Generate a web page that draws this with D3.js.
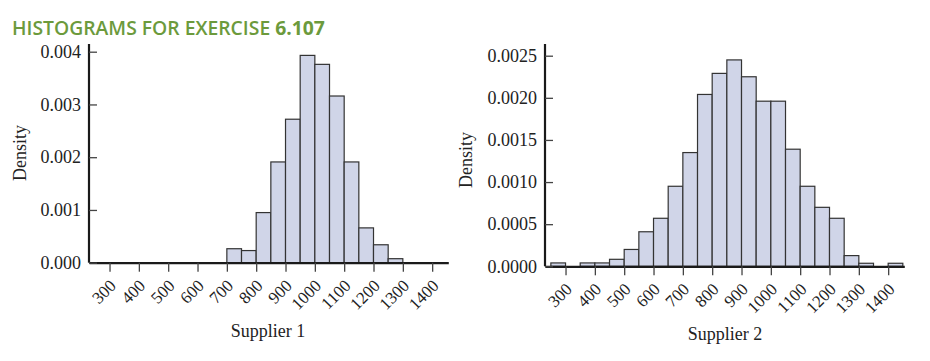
<!DOCTYPE html>
<html><head><meta charset="utf-8">
<script src="https://cdn.jsdelivr.net/npm/d3@7"></script>
<style>
body{margin:0;background:#fff;}
svg text{font-family:"Liberation Serif","Times New Roman",serif;}
</style></head>
<body><svg id="c" width="930" height="361"></svg>
<script>
const binStarts1 = [700,750,800,850,900,950,1000,1050,1100,1150,1200,1250];
const density1 = [0.000265,0.00023,0.00095,0.00191,0.00272,0.00393,0.00376,0.00316,0.00191,0.00066,0.00034,0.000076];
const binStarts2 = [250,300,350,400,450,500,550,600,650,700,750,800,850,900,950,1000,1050,1100,1150,1200,1250,1300,1350,1400];
const density2 = [0.00004,0,0.00004,0.00004,0.000083,0.0002,0.00041,0.00057,0.00095,0.00135,0.00204,0.00229,0.00245,0.00225,0.00196,0.00196,0.00139,0.00095,0.0007,0.00057,0.000127,0.000036,0,0.000036];
const xTicks = [300,400,500,600,700,800,900,1000,1100,1200,1300,1400];
const yTicks1 = [0,0.001,0.002,0.003,0.004];
const yTicks2 = [0,0.0005,0.001,0.0015,0.002,0.0025];
const binWidth = 50;

const svg = d3.select("#c");

// title
const title = svg.append("text").attr("x",12).attr("y",35)
  .style("font-family","'Open Sans','Noto Sans',sans-serif").style("font-size","19px")
  .attr("font-weight","600").attr("fill","#6c9a3c");
title.append("tspan").text("HISTOGRAMS FOR EXERCISE ");
title.append("tspan").attr("font-weight","bold").text("6.107");
// fit title width to reference span
const tw = title.node().getComputedTextLength();
title.style("font-size", (19*313/tw).toFixed(2)+"px");

function panel(cfg){
  const x = d3.scaleLinear().domain([230,1455]).range([cfg.x0, cfg.x1]);
  const y = d3.scaleLinear().domain([0, cfg.ymax]).range([cfg.yb, cfg.yt]);
  const g = svg.append("g");
  g.selectAll("rect.bar").data(cfg.starts.map((s,i)=>({s, d:cfg.dens[i]})).filter(d=>d.d>0))
    .enter().append("rect").attr("class","bar")
    .attr("x",d=>x(d.s)).attr("width",d=>x(d.s+binWidth)-x(d.s))
    .attr("y",d=>y(d.d)).attr("height",d=>y(0)-y(d.d))
    .attr("fill","#d0d5e8").attr("stroke","#333").attr("stroke-width",1.2);
  const xa = g.append("g").attr("transform",`translate(0,${cfg.yb})`)
    .call(d3.axisBottom(x).tickValues(cfg.xt).tickSize(9).tickSizeOuter(0).tickFormat(d3.format("d")));
  xa.select(".domain").attr("stroke","#1a1a1a").attr("stroke-width",2.2);
  xa.selectAll(".tick line").attr("stroke","#444").attr("stroke-width",1.3);
  xa.selectAll(".tick text").attr("fill","#222").style("font-size","17px")
    .attr("text-anchor","end").attr("dy",null).attr("y",null)
    .attr("transform","translate(7,24) rotate(-45)");
  const ya = g.append("g").attr("transform",`translate(${cfg.x0},0)`)
    .call(d3.axisLeft(y).tickValues(cfg.yt_).tickSize(-8).tickPadding(8).tickSizeOuter(0).tickFormat(cfg.fmt));
  ya.select(".domain").attr("d",`M0,${cfg.yb}V${cfg.yTop}`).attr("stroke","#1a1a1a").attr("stroke-width",2.2);
  ya.selectAll(".tick line").attr("stroke","#444").attr("stroke-width",1.3);
  ya.selectAll(".tick text").attr("fill","#222").style("font-size","18px");
  g.append("text").attr("transform",`translate(${cfg.ylx},${cfg.yly}) rotate(-90)`)
    .attr("text-anchor","middle").attr("fill","#222").style("font-size","18px").text("Density");
  g.append("text").attr("x",cfg.xlx).attr("y",cfg.xly).attr("text-anchor","middle")
    .attr("fill","#222").style("font-size","18px").text(cfg.xlabel);
}

panel({x0:89,x1:448.3,yb:262.7,yt:51.7,yTop:44,ymax:0.004,starts:binStarts1,dens:density1,
  xt:xTicks,yt_:yTicks1,fmt:d3.format(".3f"),ylx:26,yly:153,xlx:268,xly:337,xlabel:"Supplier 1"});
panel({x0:545,x1:904.3,yb:266.3,yt:55.7,yTop:44,ymax:0.0025,starts:binStarts2,dens:density2,
  xt:xTicks,yt_:yTicks2,fmt:d3.format(".4f"),ylx:472,yly:160,xlx:725,xly:340,xlabel:"Supplier 2"});
</script></body></html>
